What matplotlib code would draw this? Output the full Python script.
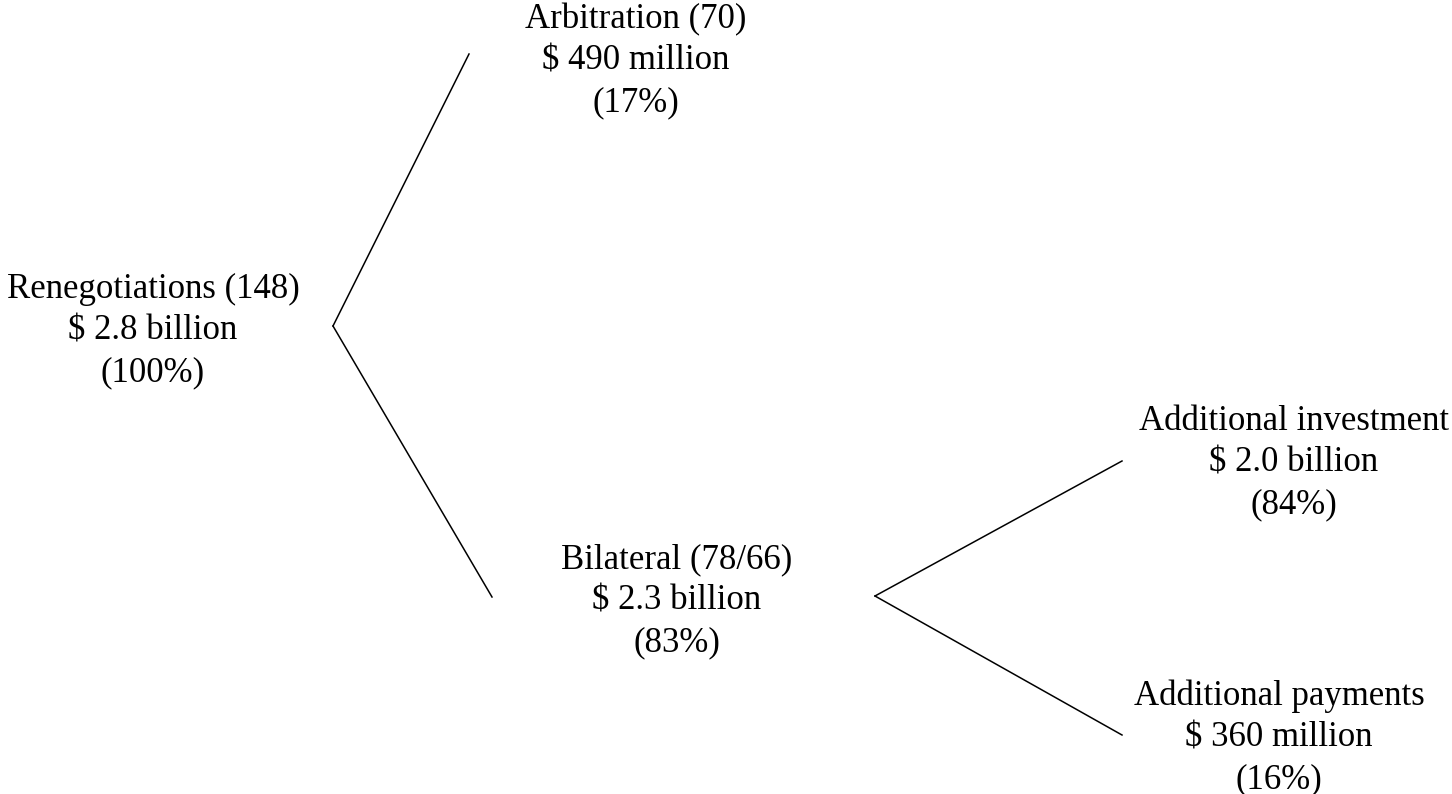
import matplotlib
matplotlib.use("Agg")
import matplotlib.pyplot as plt

# node data
names = ["Renegotiations (148)", "Arbitration (70)", "Bilateral (78/66)",
         "Additional investment", "Additional payments"]
amounts = ["$ 2.8 billion", "$ 490 million", "$ 2.3 billion",
           "$ 2.0 billion", "$ 360 million"]
shares = [100, 17, 83, 84, 16]

# layout (pixel coords, y down)
text_xy = [(153, 331), (636, 61), (677, 601), (1294, 463), (1279, 738)]
# edges: (fork point, end point)
edges = [((333, 326), (469, 54)),
         ((333, 326), (492, 597)),
         ((875, 596), (1122, 461)),
         ((875, 596), (1122, 735))]

W, H = 1452, 794
fig = plt.figure(figsize=(W / 100, H / 100), dpi=100)
ax = fig.add_axes([0, 0, 1, 1])
ax.set_xlim(0, W)
ax.set_ylim(H, 0)
ax.axis("off")

for (x0, y0), (x1, y1) in edges:
    ax.plot([x0, x1], [y0, y1], color="black", lw=1.1)

for name, amt, sh, (x, y) in zip(names, amounts, shares, text_xy):
    label = f"{name}\n{amt}\n({sh}%)"
    ax.text(x, y, label, ha="center", va="center", multialignment="center",
            fontsize=25, family="Liberation Serif", linespacing=1.34)

fig.savefig("out.png", dpi=100)
